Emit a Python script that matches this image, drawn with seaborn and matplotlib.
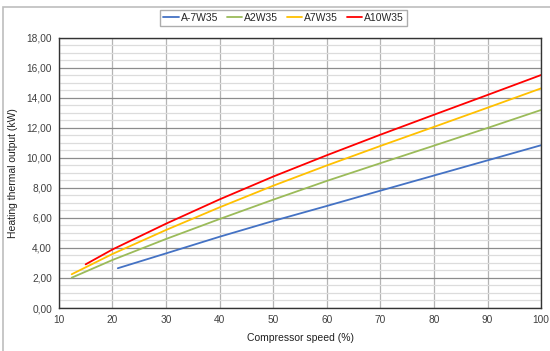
import matplotlib
matplotlib.use("Agg")
import matplotlib.pyplot as plt
from matplotlib.patches import Rectangle
from matplotlib.ticker import MultipleLocator, FuncFormatter
import seaborn as sns
import pandas as pd

# values (compressor speed %, heating output kW)
speed_a7 = [21, 30, 40, 50, 60, 70, 80, 90, 100]
out_a7 = [2.65, 3.64, 4.75, 5.8, 6.8, 7.82, 8.83, 9.84, 10.85]

speed_a2 = [12.4, 20, 30, 40, 50, 60, 70, 80, 90, 100]
out_a2 = [2.02, 3.2, 4.6, 5.93, 7.22, 8.47, 9.65, 10.82, 12.0, 13.2]

speed_a7p = [12.4, 20, 30, 40, 50, 60, 70, 80, 90, 100]
out_a7p = [2.25, 3.6, 5.2, 6.71, 8.15, 9.5, 10.8, 12.07, 13.35, 14.64]

speed_a10 = [15, 20, 30, 40, 50, 60, 70, 80, 90, 100]
out_a10 = [2.91, 3.9, 5.62, 7.24, 8.76, 10.18, 11.55, 12.88, 14.2, 15.53]

series = ["A-7W35", "A2W35", "A7W35", "A10W35"]
colors = ["#4472C4", "#9BBB59", "#FFC000", "#FF0000"]

frames = []
for name, xs, ys in zip(series, [speed_a7, speed_a2, speed_a7p, speed_a10],
                        [out_a7, out_a2, out_a7p, out_a10]):
    frames.append(pd.DataFrame({"speed": xs, "output": ys, "curve": name}))
df = pd.concat(frames, ignore_index=True)

sns.set_style("white")
plt.rcParams["font.family"] = ["Liberation Sans", "DejaVu Sans"]

fig = plt.figure(figsize=(5.5, 3.51), dpi=100)
ax = fig.add_axes([0.107, 0.1225, 0.877, 0.7695])

# outer border of the chart area
fig.patches.append(Rectangle((3 / 550, -0.1), 1.2, 1 - 7 / 351 + 0.1,
                             transform=fig.transFigure, fill=False,
                             edgecolor="#bdbdbd", linewidth=1.2))

sns.lineplot(data=df, x="speed", y="output", hue="curve", hue_order=series,
             palette=colors, linewidth=1.3, sort=False, estimator=None, ax=ax)

ax.set_xlim(10, 100)
ax.set_ylim(0, 18)
ax.xaxis.set_major_locator(MultipleLocator(10))
ax.yaxis.set_major_locator(MultipleLocator(2))
ax.yaxis.set_minor_locator(MultipleLocator(0.5))
ax.yaxis.set_major_formatter(FuncFormatter(lambda v, p: f"{v:.2f}".replace(".", ",")))

ax.grid(axis="y", which="minor", color="#dcdcdc", linewidth=0.9)
ax.grid(axis="y", which="major", color="#8c8c8c", linewidth=0.9)
ax.grid(axis="x", which="major", color="#b4b4b4", linewidth=0.9)
ax.set_axisbelow(True)
ax.tick_params(axis="both", which="both", length=0, labelsize=7.3,
               labelcolor="#404040", pad=5)

for s in ax.spines.values():
    s.set_color("#333333")
    s.set_linewidth(1.0)

ax.set_xlabel("Compressor speed (%)", fontsize=7.5, color="#202020", labelpad=6)
ax.set_ylabel("Heating thermal output (kW)", fontsize=7.5, color="#202020", labelpad=6)

ax.legend(loc="lower center", bbox_to_anchor=(0.466, 1.025), ncol=4, fontsize=7.5,
          frameon=True, fancybox=False, edgecolor="#999999", handlelength=1.5,
          handletextpad=0.2, columnspacing=0.8, borderpad=0.3,
          title=None)

fig.savefig("out.png", dpi=100)
